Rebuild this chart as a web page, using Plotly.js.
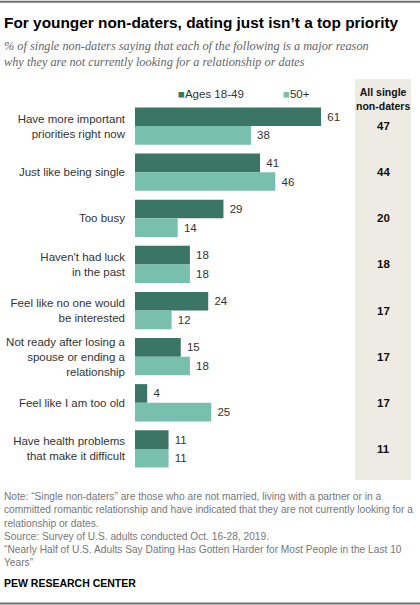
<!DOCTYPE html>
<html>
<head>
<meta charset="utf-8">
<script src="https://cdn.plot.ly/plotly-3.0.1.min.js"></script>
<style>
  html, body { margin: 0; padding: 0; background: #fff; }
  #chart { width: 420px; height: 605px; }
</style>
</head>
<body>
<div id="chart"></div>
<script>
// Reasons single non-daters give for not looking, by age
const reasons = [
    'Have more important<br>priorities right now',
    'Just like being single',
    'Too busy',
    'Haven\'t had luck<br>in the past',
    'Feel like no one would<br>be interested',
    'Not ready after losing a<br>spouse or ending a<br>relationship',
    'Feel like I am too old',
    'Have health problems<br>that make it difficult',
];
const ages1849 = [61, 41, 29, 18, 24, 15, 4, 11];
const ages50plus = [38, 46, 14, 18, 12, 18, 25, 11];
const allNonDaters = [47, 44, 20, 18, 17, 17, 17, 11];

const seriesNames = ['Ages 18-49', '50+'];
const colors = ['#3b7565', '#78bfad'];

const W = 420, H = 605;
const M = { l: 135, r: 0, t: 103, b: 133 };
const plotW = W - M.l - M.r;
const plotH = H - M.t - M.b;

// pixel -> paper helpers for decorations placed around the plot
const px = x => (x - M.l) / plotW;
const py = y => (H - M.b - y) / plotH;

const font = 'Liberation Sans, Arial, sans-serif';

const traces = [ages1849, ages50plus].map((vals, i) => ({
    type: 'bar',
    orientation: 'h',
    name: seriesNames[i],
    x: vals,
    y: reasons,
    text: vals.map(v => '\u00a0' + v),
    textposition: 'outside',
    textfont: { family: font, size: 11.5, color: '#333' },
    cliponaxis: false,
    marker: { color: colors[i] },
    hoverinfo: 'skip',
}));

const annotations = [];

// title + subtitle
annotations.push({
    xref: 'paper', yref: 'paper', x: px(2), y: py(22), xanchor: 'left', yanchor: 'middle',
    text: '<b>For younger non-daters, dating just isn\u2019t a top priority</b>',
    showarrow: false, font: { family: font, size: 15.4, color: '#000' },
});
annotations.push({
    xref: 'paper', yref: 'paper', x: px(2), y: py(54), xanchor: 'left', yanchor: 'middle', align: 'left',
    text: '<i>% of single non-daters saying that each of the following is a major reason<br>why they are not currently looking for a relationship or dates</i>',
    showarrow: false, font: { family: 'Liberation Serif, serif', size: 12.3, color: '#666' },
});

// legend
seriesNames.forEach((name, i) => {
    annotations.push({
        xref: 'paper', yref: 'paper', x: px([176, 281][i]), y: py(94), xanchor: 'left', yanchor: 'middle',
        text: `<span style="color:${colors[i]}">\u25A0</span>${name}`,
        showarrow: false, font: { family: font, size: 11.5, color: '#333' },
    });
});

// right-hand column header and values
annotations.push({
    xref: 'paper', yref: 'paper', x: px(383), y: py(99), xanchor: 'center', yanchor: 'middle',
    text: '<b>All single<br>non-daters</b>',
    showarrow: false, font: { family: font, size: 10.5, color: '#111' },
});
allNonDaters.forEach((v, i) => {
    annotations.push({
        xref: 'paper', yref: 'y', x: px(383), y: reasons[i], xanchor: 'center', yanchor: 'middle',
        text: `<b>${v}</b>`,
        showarrow: false, font: { family: font, size: 11.5, color: '#111' },
    });
});

// footnotes
annotations.push({
    xref: 'paper', yref: 'paper', x: px(2), y: py(489), xanchor: 'left', yanchor: 'top', align: 'left',
    text: 'Note: \u201cSingle non-daters\u201d are those who are not married, living with a partner or in a<br>' +
          'committed romantic relationship and have indicated that they are not currently looking for a<br>' +
          'relationship or dates.<br>' +
          'Source: Survey of U.S. adults conducted Oct. 16-28, 2019.<br>' +
          '\u201cNearly Half of U.S. Adults Say Dating Has Gotten Harder for Most People in the Last 10<br>' +
          'Years\u201d',
    showarrow: false, font: { family: font, size: 10.2, color: '#777' },
});
annotations.push({
    xref: 'paper', yref: 'paper', x: px(2), y: py(583), xanchor: 'left', yanchor: 'middle',
    text: '<b>PEW RESEARCH CENTER</b>',
    showarrow: false, font: { family: font, size: 10.5, color: '#000' },
});

const shapes = [
    // beige panel behind the totals column
    { type: 'rect', xref: 'paper', yref: 'paper', x0: px(355), x1: px(411), y0: py(480), y1: py(79),
      fillcolor: '#eeebe4', line: { width: 0 }, layer: 'below' },
    // top and bottom rules
    { type: 'line', xref: 'paper', yref: 'paper', x0: px(0), x1: px(W), y0: py(1.7), y1: py(1.7),
      line: { color: '#707070', width: 2 } },
    { type: 'line', xref: 'paper', yref: 'paper', x0: px(0), x1: px(W), y0: py(603.5), y1: py(603.5),
      line: { color: '#707070', width: 2 } },
];

const layout = {
    width: W,
    height: H,
    margin: M,
    paper_bgcolor: '#fff',
    plot_bgcolor: 'rgba(0,0,0,0)',
    showlegend: false,
    barmode: 'group',
    bargap: 0.19,
    bargroupgap: 0,
    font: { family: font, color: '#333' },
    xaxis: { range: [0, plotW / 3.05], visible: false, fixedrange: true },
    yaxis: {
        autorange: 'reversed',
        showgrid: false, zeroline: false, showline: false,
        ticks: '', ticklabelstandoff: 9,
        tickfont: { family: font, size: 11.5, color: '#333' },
        fixedrange: true,
    },
    annotations,
    shapes,
};

Plotly.newPlot('chart', traces, layout, { displayModeBar: false, staticPlot: true });
</script>
</body>
</html>
